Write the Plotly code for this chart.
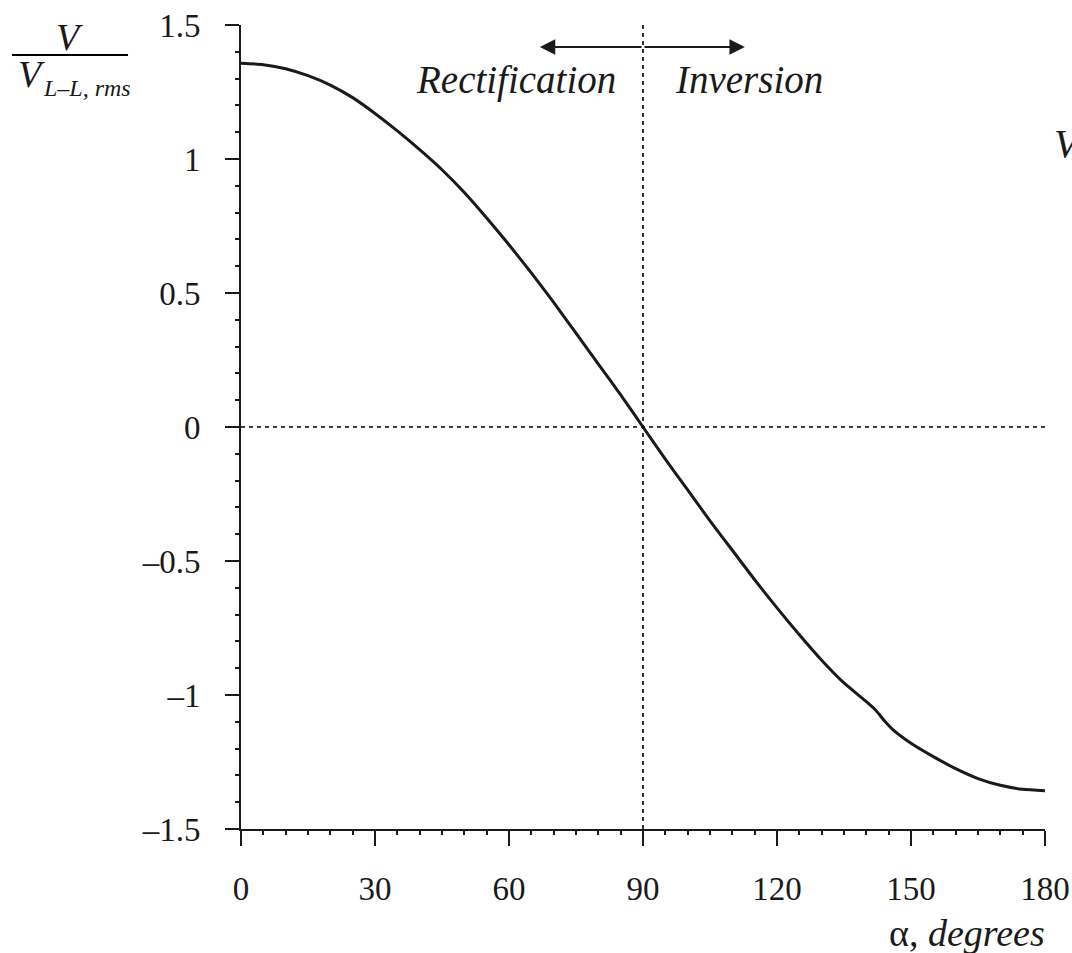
import plotly.graph_objects as go

# Firing angle alpha (degrees) and normalised output voltage V / V_LL,rms
alpha = [0, 5, 10, 15, 20, 25, 30, 35, 40, 45, 50, 55, 60, 65, 70, 75, 80, 85, 90,
         95, 100, 105, 110, 115, 120, 125, 130, 135, 140, 142, 144, 146, 150, 155,
         160, 165, 170, 175, 180]
v_ratio = [1.357, 1.352, 1.337, 1.311, 1.276, 1.229, 1.170, 1.105, 1.035, 0.960,
           0.875, 0.780, 0.680, 0.575, 0.465, 0.350, 0.235, 0.120, 0.000,
           -0.120, -0.235, -0.350, -0.460, -0.570, -0.675, -0.775, -0.870, -0.955,
           -1.025, -1.055, -1.095, -1.130, -1.180, -1.230, -1.275, -1.312, -1.337,
           -1.352, -1.357]

y_tickvals = [1.5, 1, 0.5, 0, -0.5, -1, -1.5]
y_ticktext = ["1.5", "1", "0.5", "0", "–0.5", "–1", "–1.5"]
x_tickvals = [0, 30, 60, 90, 120, 150, 180]
x_ticktext = ["0", "30", "60", "90", "120", "150", "180"]

FONT = "Liberation Serif, Times New Roman, serif"

fig = go.Figure()
fig.add_trace(go.Scatter(x=alpha, y=v_ratio, mode="lines",
                         line=dict(color="#1a1a1a", width=3, shape="spline", smoothing=0.6),
                         showlegend=False, hoverinfo="skip"))

# dotted reference lines
fig.add_shape(type="line", xref="x", yref="y", x0=0, x1=180, y0=0, y1=0,
              line=dict(color="black", width=1.6, dash="4px,4px"))
fig.add_shape(type="line", xref="x", yref="y", x0=90, x1=90, y0=-1.5, y1=1.5,
              line=dict(color="black", width=1.6, dash="4px,4px"))

# fraction bar of the y-axis title
fig.add_shape(type="line", xref="paper", yref="paper", x0=-0.2848, x1=-0.1405,
              y0=0.9627, y1=0.9627, line=dict(color="black", width=2))

ann = []
# arrows
for tip in (66.9, 112.8):
    ann.append(dict(x=tip, y=1.418, ax=90, ay=1.418, xref="x", yref="y",
                    axref="x", ayref="y", text="", showarrow=True,
                    arrowhead=2, arrowsize=1.4, arrowwidth=2.2, arrowcolor="#1a1a1a",
                    standoff=0, startstandoff=0))
ann.append(dict(x=61.6, y=1.295, xref="x", yref="y", text="<i>Rectification</i>",
                showarrow=False, font=dict(family=FONT, size=39, color="#1a1a1a"),
                xanchor="center", yanchor="middle"))
ann.append(dict(x=113.7, y=1.295, xref="x", yref="y", text="<i>Inversion</i>",
                showarrow=False, font=dict(family=FONT, size=39, color="#1a1a1a"),
                xanchor="center", yanchor="middle"))
# y title
ann.append(dict(x=-0.2127, y=0.985, xref="paper", yref="paper", text="<i>V</i>",
                showarrow=False, font=dict(family=FONT, size=38, color="#1a1a1a"),
                xanchor="center", yanchor="middle"))
ann.append(dict(x=-0.261, y=0.939, xref="paper", yref="paper", text="<i>V</i>",
                showarrow=False, font=dict(family=FONT, size=38, color="#1a1a1a"),
                xanchor="center", yanchor="middle"))
ann.append(dict(x=-0.2488, y=0.922, xref="paper", yref="paper", text="<i>L–L, rms</i>",
                showarrow=False, font=dict(family=FONT, size=24, color="#1a1a1a"),
                xanchor="left", yanchor="middle"))
# x title
ann.append(dict(x=1.0025, y=-0.1294, xref="paper", yref="paper",
                text="α, <i>degrees</i>", showarrow=False,
                font=dict(family=FONT, size=38, color="#1a1a1a"),
                xanchor="right", yanchor="middle"))
# label cut by the right edge of the picture
ann.append(dict(x=1.009, y=0.853, xref="paper", yref="paper", text="<i>V</i>",
                showarrow=False, font=dict(family=FONT, size=40, color="#1a1a1a"),
                xanchor="left", yanchor="middle"))

fig.update_layout(
    width=1072, height=953,
    margin=dict(l=241, r=27, t=25, b=124, autoexpand=False),
    paper_bgcolor="white", plot_bgcolor="white",
    font=dict(family=FONT, size=33, color="#1a1a1a"),
    annotations=ann,
    showlegend=False,
)
fig.update_xaxes(range=[0, 180], tickvals=x_tickvals, ticktext=x_ticktext,
                 showline=True, linecolor="#1a1a1a", linewidth=2,
                 ticks="outside", ticklen=15, tickwidth=2, tickcolor="#1a1a1a",
                 minor=dict(dtick=5, ticks="outside", ticklen=4, tickwidth=1.5,
                            tickcolor="#1a1a1a", showgrid=False),
                 showgrid=False, zeroline=False, ticklabelstandoff=14,
                 ticklabeloverflow="allow",
                 tickfont=dict(family=FONT, size=33, color="#1a1a1a"))
fig.update_yaxes(range=[-1.5, 1.5], tickvals=y_tickvals, ticktext=y_ticktext,
                 showline=True, linecolor="#1a1a1a", linewidth=2,
                 ticks="outside", ticklen=14, tickwidth=2, tickcolor="#1a1a1a",
                 minor=dict(dtick=0.1, tick0=0, ticks="outside", ticklen=4, tickwidth=1.5,
                            tickcolor="#1a1a1a", showgrid=False),
                 showgrid=False, zeroline=False, ticklabelstandoff=18,
                 ticklabeloverflow="allow",
                 tickfont=dict(family=FONT, size=33, color="#1a1a1a"))

# remove the default 8px page margin so the 1072x953 figure fills the window exactly
fig.write_html("out.html",
               config={"displayModeBar": False},
               post_script="document.body.style.margin='0';"
                           "document.body.style.overflow='hidden';")
